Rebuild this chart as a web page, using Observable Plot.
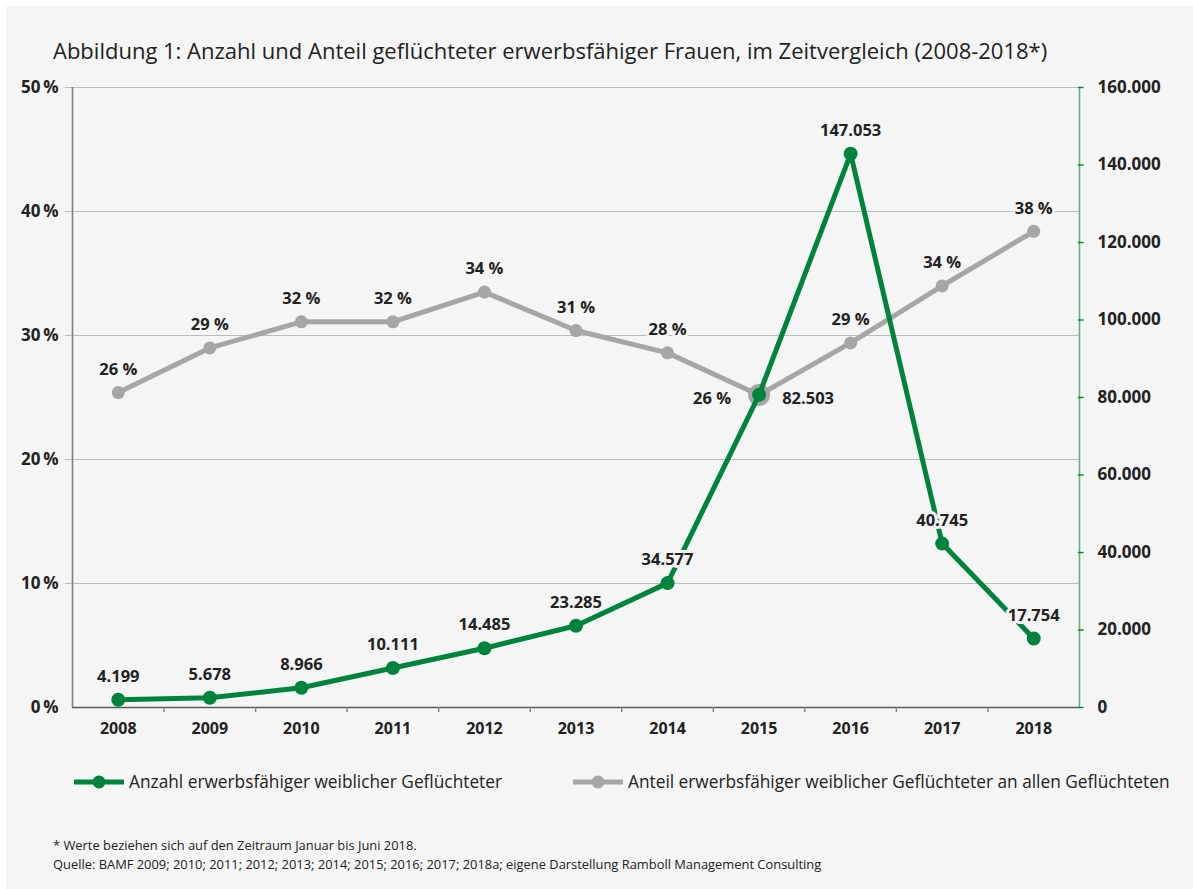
<!DOCTYPE html>
<html>
<head>
<meta charset="utf-8">
<script src="https://cdn.jsdelivr.net/npm/d3@7"></script>
<script src="https://cdn.jsdelivr.net/npm/@observablehq/plot@0.6"></script>
<style>
  html, body { margin: 0; padding: 0; background: #ffffff; }
  body { width: 1193px; height: 889px; position: relative; overflow: hidden; font-family: "Open Sans", sans-serif; color: #222; }
  #panel { position: absolute; left: 6px; top: 6px; right: 0; bottom: 0; background: #f5f5f5; }
  #title { position: absolute; left: 53px; top: 35px; font-size: 22px; white-space: nowrap; color: #222; }
  #chart { position: absolute; left: 0; top: 0; }
  #legend { position: absolute; top: 770px; left: 0; width: 1193px; height: 26px; font-size: 17.3px; }
  .lg { position: absolute; top: 0; display: flex; align-items: center; white-space: nowrap; }
  .lg svg { margin-right: 4px; }
  #notes { position: absolute; left: 53px; top: 836px; font-size: 12.9px; line-height: 19px; color: #222; }
</style>
</head>
<body>
<div id="panel"></div>
<div id="title">Abbildung 1: Anzahl und Anteil geflüchteter erwerbsfähiger Frauen, im Zeitvergleich (2008-2018*)</div>
<div id="chart"></div>
<div id="legend"></div>
<div id="notes">* Werte beziehen sich auf den Zeitraum Januar bis Juni 2018.<br>Quelle: BAMF 2009; 2010; 2011; 2012; 2013; 2014; 2015; 2016; 2017; 2018a; eigene Darstellung Ramboll Management Consulting</div>
<script>
// ---- data ----
const years = [2008, 2009, 2010, 2011, 2012, 2013, 2014, 2015, 2016, 2017, 2018];
// Anzahl (right axis) – marker heights as drawn in the picture
const anzahl = [2000, 2500, 5100, 10200, 15300, 21100, 32100, 80700, 142900, 42300, 17800];
const anzahlLabels = ["4.199", "5.678", "8.966", "10.111", "14.485", "23.285", "34.577", "82.503", "147.053", "40.745", "17.754"];
// Anteil in % (left axis)
const anteil = [25.4, 29.0, 31.1, 31.1, 33.5, 30.4, 28.6, 25.2, 29.4, 34.0, 38.4];
const anteilLabels = ["26 %", "29 %", "32 %", "32 %", "34 %", "31 %", "28 %", "26 %", "29 %", "34 %", "38 %"];
const leftTicks = [0, 10, 20, 30, 40, 50];
const rightTicks = [0, 20000, 40000, 60000, 80000, 100000, 120000, 140000, 160000];
const seriesNames = ["Anzahl erwerbsfähiger weiblicher Geflüchteter", "Anteil erwerbsfähiger weiblicher Geflüchteter an allen Geflüchteten"];

const GREEN = "#00843d";
const GREEN_AXIS = "#5db47c";
const GREY = "#a6a6a6";
const BG = "#f5f5f5";
const LEFT_MAX = 50, RIGHT_MAX = 160000;
const toLeft = v => v / RIGHT_MAX * LEFT_MAX;

const de = d3.formatLocale({decimal: ",", thousands: ".", grouping: [3], currency: ["", "€"]});
const fmtDe = de.format(",d");

const data = years.map((year, i) => ({
  year, anzahl: anzahl[i], anzahlLabel: anzahlLabels[i], anteil: anteil[i], anteilLabel: anteilLabels[i]
}));
const x0 = years[0] - 0.5, x1 = years[years.length - 1] + 0.5;
const bounds = years.slice(0, -1).map(y => y + 0.5);

const chart = Plot.plot({
  width: 1193,
  height: 760,
  marginTop: 87,
  marginBottom: 53,
  marginLeft: 72,
  marginRight: 114,
  style: {background: "transparent", fontFamily: "Open Sans, sans-serif", color: "#222", overflow: "visible"},
  x: {type: "linear", domain: [x0, x1], axis: null},
  y: {domain: [0, LEFT_MAX], axis: null},
  marks: [
    // gridlines with short outward ticks on the left
    Plot.ruleY(leftTicks.slice(1), {x1: x0 - 0.078, x2: x1, stroke: "#bcbcbc", strokeWidth: 1.2}),
    // left axis line
    Plot.ruleX([x0], {y1: 0, y2: LEFT_MAX, stroke: "#808080", strokeWidth: 1.6}),
    // baseline
    Plot.ruleY([0], {x1: x0, x2: x1, stroke: "#595959", strokeWidth: 1.6}),
    // x ticks between categories
    Plot.ruleX(bounds, {y1: 0, y2: -0.4, stroke: "#808080", strokeWidth: 1.4}),
    // right axis (green)
    Plot.ruleX([x1], {y1: 0, y2: LEFT_MAX, stroke: GREEN_AXIS, strokeWidth: 1.6}),
    Plot.ruleY(rightTicks, {y: toLeft, x1: x1 - 0.012, x2: x1 + 0.05, stroke: GREEN, strokeWidth: 1.4}),
    // left tick labels
    Plot.text(leftTicks, {x: x0, y: d => d, dx: -14, text: d => d + "\u2009%", textAnchor: "end", fontWeight: "bold", fontSize: 17, fill: "#222"}),
    // right tick labels
    Plot.text(rightTicks, {x: x1, y: toLeft, dx: 18, text: d => fmtDe(d), textAnchor: "start", fontWeight: "bold", fontSize: 17, fill: "#222"}),
    // x labels
    Plot.text(years, {x: d => d, y: 0, dy: 21, text: d => String(d), fontWeight: "bold", fontSize: 16, fill: "#222"}),
    // Anteil series (grey)
    Plot.line(data, {x: "year", y: "anteil", stroke: GREY, strokeWidth: 5}),
    Plot.dot(data, {filter: d => d.year === 2015, x: "year", y: "anteil", r: 11, fill: GREY}),
    Plot.dot(data, {x: "year", y: "anteil", r: 6.5, fill: GREY}),
    // Anzahl series (green)
    Plot.line(data, {x: "year", y: d => toLeft(d.anzahl), stroke: GREEN, strokeWidth: 5}),
    Plot.dot(data, {x: "year", y: d => toLeft(d.anzahl), r: 7, fill: GREEN}),
    // labels
    Plot.text(data, {filter: d => d.year !== 2015, x: "year", y: "anteil", dy: -23, text: "anteilLabel", fontWeight: "bold", fontSize: 16.5, fill: "#222", stroke: BG, strokeWidth: 5, paintOrder: "stroke"}),
    Plot.text(data, {filter: d => d.year === 2015, x: "year", y: "anteil", dx: -47, dy: 4, text: "anteilLabel", fontWeight: "bold", fontSize: 16.5, fill: "#222", stroke: BG, strokeWidth: 5, paintOrder: "stroke"}),
    Plot.text(data, {filter: d => d.year !== 2015, x: "year", y: d => toLeft(d.anzahl), dy: -23, text: "anzahlLabel", fontWeight: "bold", fontSize: 16.5, fill: "#222", stroke: BG, strokeWidth: 6, paintOrder: "stroke"}),
    Plot.text(data, {filter: d => d.year === 2015, x: "year", y: d => toLeft(d.anzahl), dx: 49, dy: 4, text: "anzahlLabel", fontWeight: "bold", fontSize: 16.5, fill: "#222", stroke: BG, strokeWidth: 6, paintOrder: "stroke"})
  ]
});
document.getElementById("chart").appendChild(chart);

// legend
const legend = document.getElementById("legend");
const swatch = (color) => `<svg width="51" height="16"><line x1="0" y1="8" x2="50" y2="8" stroke="${color}" stroke-width="5"/><circle cx="25" cy="8" r="6.5" fill="${color}"/></svg>`;
const items = [{name: seriesNames[0], color: GREEN, left: 74}, {name: seriesNames[1], color: GREY, left: 573}];
items.forEach(it => {
  const el = document.createElement("div");
  el.className = "lg";
  el.style.left = it.left + "px";
  el.innerHTML = swatch(it.color) + `<span>${it.name}</span>`;
  legend.appendChild(el);
});
</script>
</body>
</html>
